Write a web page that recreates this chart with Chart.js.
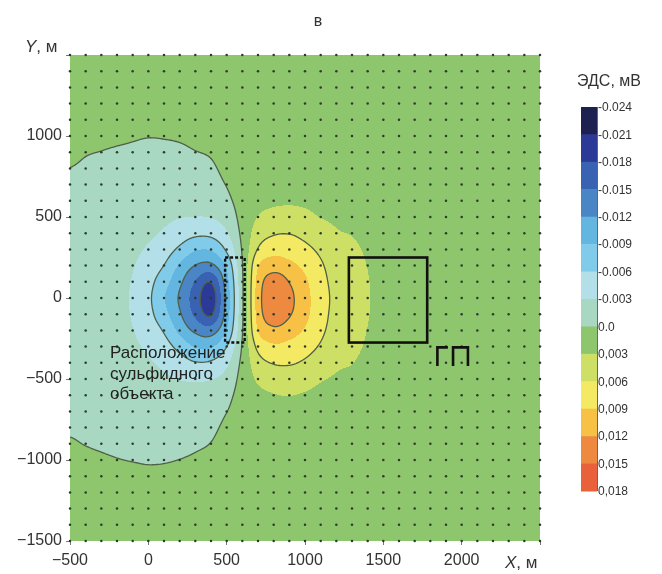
<!DOCTYPE html>
<html lang="ru">
<head>
<meta charset="utf-8">
<script src="https://cdn.jsdelivr.net/npm/chart.js@4.4.1/dist/chart.umd.min.js"></script>
<style>
  html, body { margin: 0; padding: 0; background: #fff; }
  #wrap { width: 662px; height: 574px; position: relative; }
</style>
</head>
<body>
<div id="wrap"><canvas id="chartMapa"></canvas></div>
<script>
// ==================== DATOS ====================
// nodos de la malla de observación (m)
const xCoords = [-500,-400,-300,-200,-100,0,100,200,300,400,500,600,700,800,900,1000,
                 1100,1200,1300,1400,1500,1600,1700,1800,1900,2000,2100,2200,2300,2400,2500];
const yCoords = [1500,1400,1300,1200,1100,1000,900,800,700,600,500,400,300,200,100,0,
                 -100,-200,-300,-400,-500,-600,-700,-800,-900,-1000,-1100,-1200,-1300,-1400,-1500];

// ЭДС en cada nodo, en unidades de 0.001 мВ; filas de Y=1500 a Y=-1500
const emfRows = [
  [1,1,1,1,1,1,1,1,1,1, 1,1,1,1,1,1,1,1,1,1,1,1,1,1,1, 1,1,1,1,1,1],
  [1,1,1,1,1,1,1,1,1,1, 1,1,1,1,1,1,1,1,1,1,1,1,1,1,1, 1,1,1,1,1,1],
  [1,1,1,1,1,1,1,1,1,1, 1,1,1,1,1,1,1,1,1,1,1,1,1,1,1, 1,1,1,1,1,1],
  [1,0.95,0.9,0.9,0.85,0.85,0.85,0.9,0.9,1, 1,1,1,1,1,1,1,1,1,1,1,1,1,1,1, 1,1,1,1,1,1],
  [0.9,0.8,0.75,0.7,0.6,0.55,0.6,0.65,0.75,0.9, 1,1,1,1,1,1,1,1,1,1,1,1,1,1,1, 1,1,1,1,1,1],
  [0.7,0.5,0.4,0.3,0.15,0.05,0.1,0.2,0.4,0.6, 1,1,1,1.05,1.05,1.05,1.05,1.05,1.05,1.05,1,1,1,1,1, 1,1,1,1,1,1],
  [0.4,0.1,-0.03,-0.17,-0.25,-0.35,-0.4,-0.3,-0.05,0.2, 0.9,1,1.1,1.2,1.2,1.2,1.2,1.2,1.15,1.15,1.1,1.05,1.05,1,1, 1,1,1,1,1,1],
  [-0.02,-0.25,-0.4,-0.5,-0.6,-0.75,-0.85,-0.8,-0.7,-0.35, 0.6,1.05,1.3,1.5,1.5,1.5,1.4,1.4,1.35,1.3,1.2,1.15,1.1,1.05,1, 1,1,1,1,1,1],
  [-0.35,-0.55,-0.7,-0.85,-1,-1.2,-1.35,-1.35,-1.3,-1, 0.1,1.1,1.6,1.9,2,1.9,1.8,1.7,1.65,1.55,1.35,1.25,1.15,1.1,1.05, 1,1,1,1,1,1],
  [-0.65,-0.8,-1,-1.2,-1.4,-1.65,-1.9,-2,-2,-1.8, -0.6,1.1,2.2,2.6,2.7,2.6,2.3,2.1,2,1.8,1.5,1.35,1.2,1.15,1.05, 1,1,1,1,1,1],
  [-0.85,-1.05,-1.3,-1.55,-1.8,-2.1,-2.5,-2.9,-3.05,-2.9, -1.8,1,3.1,3.8,4,3.6,2.95,2.6,2.4,2.1,1.7,1.45,1.3,1.2,1.1, 1,1,1,1,1,1],
  [-1,-1.25,-1.55,-1.85,-2.15,-2.6,-3.3,-4.4,-5.3,-5.2, -3.3,0.7,4.4,5.7,5.9,5.2,4.2,3.2,2.9,2.4,1.85,1.55,1.35,1.2,1.1, 1,1,1,1,1,1],
  [-1.1,-1.4,-1.75,-2.1,-2.5,-3.3,-4.5,-6.6,-8.7,-8.7, -5.5,0.3,6.2,8,7.6,6.7,5.4,3.9,3.4,2.7,2,1.65,1.4,1.25,1.1, 1,1,1,1,1,1],
  [-1.15,-1.5,-1.9,-2.3,-2.85,-4.2,-6.05,-9.4,-12.1,-12.7, -8.4,-0.1,8.8,10.6,9.8,8.3,6.4,4.6,3.8,2.95,2.15,1.75,1.45,1.3,1.15, 1,1,1,1,1,1],
  [-1.2,-1.58,-1.97,-2.45,-3.15,-5,-7.8,-11.3,-15.2,-17.8, -10.2,-0.4,10.1,13.6,11.9,9.5,7,5,3.95,3.1,2.25,1.8,1.5,1.3,1.15, 1,1,1,1,1,1],
  [-1.2,-1.6,-2,-2.5,-3.3,-5.4,-8.8,-12.4,-16.5,-19.8, -11,-0.5,10.5,14.6,12.8,10,7.3,5.2,4,3.15,2.3,1.8,1.5,1.3,1.15, 1,1,1,1,1,1],
  [-1.2,-1.58,-1.97,-2.45,-3.2,-5.1,-8,-11.6,-15.6,-18.3, -10.5,-0.45,10.2,13.9,12.3,9.8,7.1,5.1,3.95,3.1,2.25,1.8,1.5,1.3,1.15, 1,1,1,1,1,1],
  [-1.18,-1.52,-1.92,-2.33,-2.92,-4.35,-6.3,-9.8,-12.6,-13.5, -8.9,-0.15,9.1,11.3,10.4,8.7,6.6,4.8,3.85,2.95,2.2,1.75,1.45,1.3,1.15, 1,1,1,1,1,1],
  [-1.12,-1.43,-1.8,-2.15,-2.58,-3.45,-4.75,-7,-9.2,-9.3, -6.05,0.3,6.8,8.5,8.1,7.1,5.7,4.1,3.5,2.75,2.05,1.65,1.4,1.25,1.1, 1,1,1,1,1,1],
  [-1.05,-1.3,-1.62,-1.92,-2.25,-2.75,-3.5,-4.7,-5.8,-5.6, -3.6,0.75,4.8,6.2,6.3,5.6,4.5,3.4,3.05,2.45,1.9,1.55,1.35,1.2,1.1, 1,1,1,1,1,1],
  [-0.92,-1.12,-1.4,-1.65,-1.9,-2.2,-2.65,-3.1,-3.3,-3.1, -2,1.05,3.4,4.1,4.3,3.9,3.2,2.75,2.5,2.15,1.75,1.45,1.3,1.2,1.1, 1,1,1,1,1,1],
  [-0.75,-0.9,-1.12,-1.32,-1.52,-1.78,-2.02,-2.15,-2.15,-1.95, -0.8,1.15,2.4,2.9,3.05,2.8,2.45,2.2,2.05,1.85,1.55,1.35,1.2,1.15,1.05, 1,1,1,1,1,1],
  [-0.5,-0.65,-0.82,-0.97,-1.12,-1.35,-1.5,-1.5,-1.45,-1.15, -0.05,1.15,1.75,2.1,2.2,2.05,1.9,1.8,1.7,1.6,1.4,1.25,1.15,1.1,1.05, 1,1,1,1,1,1],
  [-0.2,-0.38,-0.52,-0.65,-0.75,-0.9,-1,-0.95,-0.85,-0.5, 0.5,1.1,1.35,1.6,1.6,1.6,1.5,1.45,1.4,1.35,1.25,1.15,1.1,1.05,1, 1,1,1,1,1,1],
  [0.15,-0.05,-0.2,-0.33,-0.4,-0.5,-0.55,-0.45,-0.25,0.05, 0.85,1,1.15,1.3,1.3,1.3,1.25,1.25,1.2,1.15,1.1,1.05,1.05,1,1, 1,1,1,1,1,1],
  [0.5,0.35,0.2,0.05,-0.05,-0.12,-0.1,0.02,0.2,0.45, 1,1,1.05,1.1,1.1,1.1,1.1,1.1,1.05,1.05,1,1,1,1,1, 1,1,1,1,1,1],
  [0.8,0.7,0.6,0.5,0.4,0.3,0.35,0.45,0.6,0.8, 1,1,1,1,1,1,1,1,1,1,1,1,1,1,1, 1,1,1,1,1,1],
  [0.95,0.9,0.85,0.8,0.75,0.7,0.7,0.75,0.85,0.95, 1,1,1,1,1,1,1,1,1,1,1,1,1,1,1, 1,1,1,1,1,1],
  [1,1,1,0.95,0.95,0.9,0.9,0.95,1,1, 1,1,1,1,1,1,1,1,1,1,1,1,1,1,1, 1,1,1,1,1,1],
  [1,1,1,1,1,1,1,1,1,1, 1,1,1,1,1,1,1,1,1,1,1,1,1,1,1, 1,1,1,1,1,1],
  [1,1,1,1,1,1,1,1,1,1, 1,1,1,1,1,1,1,1,1,1,1,1,1,1,1, 1,1,1,1,1,1]
];

// escala de colores (límites en 0.001 мВ)
const bandLimits = [-24,-21,-18,-15,-12,-9,-6,-3,0,3,6,9,12,15,18];
const bandLabels = ['-0.024','-0.021','-0.018','-0.015','-0.012','-0.009','-0.006','-0.003',
                    '0.0','0,003','0,006','0,009','0,012','0,015','0,018'];
const bandColors = ['#1d2152','#2b3a96','#3a62b2','#4a86c6','#62b6e0','#80cbea','#b3e0e8',
                    '#a9d8c2','#8dc66c','#cddf64','#f4e962','#f6c144','#ee8a40','#e8613a'];
const contourLevels = [-18,-12,-6,0,6,12];

// objetos dibujados sobre el mapa (m)
const sulfideBox = { x: [490, 615], y: [-275, 250] };
const loopBox = { x: [1280, 1780], y: [-275, 250] };
const gpMarks = [
  [[1845, -420], [1845, -305], [1912, -305]],
  [[1945, -420], [1945, -305], [2040, -305], [2040, -420]]
];
const noteLines = ['Расположение', 'сульфидного', 'объекта'];
const notePos = { x: -245, y: -342 };

const FONT = "'Liberation Sans', Arial, sans-serif";

// ==================== FUNCIONES ====================
function hexToRgb(h) {
  return [parseInt(h.substr(1,2),16), parseInt(h.substr(3,2),16), parseInt(h.substr(5,2),16)];
}

// Catmull-Rom entre nodos de la malla
function crWeights(t) {
  const t2 = t * t, t3 = t2 * t;
  return [(-t3 + 2*t2 - t) / 2, (3*t3 - 5*t2 + 2) / 2, (-3*t3 + 4*t2 + t) / 2, (t3 - t2) / 2];
}

function valueAt(X, Y) {
  const nx = xCoords.length, ny = yCoords.length;
  const dx = xCoords[1] - xCoords[0], dy = yCoords[0] - yCoords[1];
  const fx = Math.max(0, Math.min(nx - 1, (X - xCoords[0]) / dx));
  const fy = Math.max(0, Math.min(ny - 1, (yCoords[0] - Y) / dy));
  const i = Math.min(nx - 2, Math.floor(fx)), j = Math.min(ny - 2, Math.floor(fy));
  const wx = crWeights(fx - i), wy = crWeights(fy - j);
  let v = 0;
  for (let b = 0; b < 4; b++) {
    const row = emfRows[Math.max(0, Math.min(ny - 1, j - 1 + b))];
    let s = 0;
    for (let c = 0; c < 4; c++) s += wx[c] * row[Math.max(0, Math.min(nx - 1, i - 1 + c))];
    v += wy[b] * s;
  }
  return v;
}

function bandIndex(v) {
  let k = 0;
  for (let b = 0; b < bandLimits.length - 1; b++) if (v >= bandLimits[b]) k = b;
  return k;
}

// ==================== PLUGIN: MAPA DE ISOLÍNEAS ====================
const mapaPlugin = {
  id: 'mapa',
  beforeDatasetsDraw(chart) {
    const { ctx, chartArea: a, scales: { x, y } } = chart;
    const w = Math.round(a.right - a.left), h = Math.round(a.bottom - a.top);
    const vals = new Float32Array(w * h);
    const off = document.createElement('canvas');
    off.width = w; off.height = h;
    const octx = off.getContext('2d');
    const img = octx.createImageData(w, h);
    const rgb = bandColors.map(hexToRgb);
    for (let py = 0; py < h; py++) {
      const Y = y.getValueForPixel(a.top + py + 0.5);
      for (let px = 0; px < w; px++) {
        const X = x.getValueForPixel(a.left + px + 0.5);
        const v = valueAt(X, Y);
        vals[py * w + px] = v;
        const c = rgb[bandIndex(v)];
        const k = (py * w + px) * 4;
        img.data[k] = c[0]; img.data[k+1] = c[1]; img.data[k+2] = c[2]; img.data[k+3] = 255;
      }
    }
    octx.putImageData(img, 0, 0);
    ctx.save();
    ctx.drawImage(off, a.left, a.top, w, h);

    // isolíneas sobre el campo interpolado
    ctx.beginPath();
    ctx.rect(a.left, a.top, a.right - a.left, a.bottom - a.top);
    ctx.clip();
    ctx.strokeStyle = '#4f5f48';
    ctx.lineWidth = 1.3;
    ctx.lineCap = 'round';
    const s = 2;
    contourLevels.forEach(L => {
      ctx.beginPath();
      for (let py = 0; py + s < h; py += s) {
        for (let px = 0; px + s < w; px += s) {
          const cs = [[px, py], [px + s, py], [px + s, py + s], [px, py + s]];
          const pts = [];
          for (let e = 0; e < 4; e++) {
            const p = cs[e], q = cs[(e + 1) % 4];
            const va = vals[p[1] * w + p[0]], vb = vals[q[1] * w + q[0]];
            if ((va < L) !== (vb < L)) {
              const t = (L - va) / (vb - va);
              pts.push([a.left + 0.5 + p[0] + t * (q[0] - p[0]), a.top + 0.5 + p[1] + t * (q[1] - p[1])]);
            }
          }
          if (pts.length >= 2) {
            ctx.moveTo(pts[0][0], pts[0][1]); ctx.lineTo(pts[1][0], pts[1][1]);
            if (pts.length === 4) { ctx.moveTo(pts[2][0], pts[2][1]); ctx.lineTo(pts[3][0], pts[3][1]); }
          }
        }
      }
      ctx.stroke();
    });
    ctx.restore();
  },

  afterDatasetsDraw(chart) {
    const { ctx, scales: { x, y } } = chart;
    ctx.save();
    ctx.strokeStyle = '#111';
    // контур сульфидного объекта
    ctx.lineWidth = 2.4;
    ctx.setLineDash([3, 2]);
    ctx.strokeRect(x.getPixelForValue(sulfideBox.x[0]), y.getPixelForValue(sulfideBox.y[1]),
      x.getPixelForValue(sulfideBox.x[1]) - x.getPixelForValue(sulfideBox.x[0]),
      y.getPixelForValue(sulfideBox.y[0]) - y.getPixelForValue(sulfideBox.y[1]));
    ctx.setLineDash([]);
    ctx.lineWidth = 2.6;
    ctx.strokeRect(x.getPixelForValue(loopBox.x[0]), y.getPixelForValue(loopBox.y[1]),
      x.getPixelForValue(loopBox.x[1]) - x.getPixelForValue(loopBox.x[0]),
      y.getPixelForValue(loopBox.y[0]) - y.getPixelForValue(loopBox.y[1]));
    gpMarks.forEach(m => {
      ctx.beginPath();
      m.forEach((p, k) => {
        const px = x.getPixelForValue(p[0]), py = y.getPixelForValue(p[1]);
        if (k === 0) ctx.moveTo(px, py); else ctx.lineTo(px, py);
      });
      ctx.stroke();
    });
    // подпись
    ctx.fillStyle = '#222';
    ctx.font = '17px ' + FONT;
    ctx.textBaseline = 'middle';
    ctx.textAlign = 'left';
    const tx = x.getPixelForValue(notePos.x), ty = y.getPixelForValue(notePos.y);
    noteLines.forEach((t, k) => ctx.fillText(t, tx, ty + k * 20.5));
    ctx.restore();
  },

  afterDraw(chart) {
    const { ctx, chartArea: a } = chart;
    ctx.save();
    ctx.fillStyle = '#333';
    ctx.textBaseline = 'middle';
    // título
    ctx.font = '16px ' + FONT;
    ctx.textAlign = 'center';
    ctx.fillText('в', 318, 22);
    // títulos de ejes
    ctx.textAlign = 'left';
    ctx.font = 'italic 17px ' + FONT;
    ctx.fillText('Y', 25, 47);
    const wY = ctx.measureText('Y').width;
    ctx.font = '17px ' + FONT;
    ctx.fillText(', м', 25 + wY, 47);
    ctx.font = 'italic 17px ' + FONT;
    ctx.fillText('X', 505, a.bottom + 22);
    const wX = ctx.measureText('X').width;
    ctx.font = '17px ' + FONT;
    ctx.fillText(', м', 505 + wX, a.bottom + 22);

    // escala de colores
    const bx = 581, bw = 16, top = 107, bot = 491;
    const step = (bot - top) / bandColors.length;
    bandColors.forEach((c, k) => {
      ctx.fillStyle = c;
      ctx.fillRect(bx, top + k * step, bw, step + 0.5);
    });
    ctx.strokeStyle = '#666';
    ctx.lineWidth = 1;
    ctx.beginPath(); ctx.moveTo(bx + bw + 0.5, top); ctx.lineTo(bx + bw + 0.5, bot); ctx.stroke();
    ctx.fillStyle = '#333';
    ctx.font = '12px ' + FONT;
    ctx.textAlign = 'left';
    bandLabels.forEach((t, k) => ctx.fillText(t, bx + bw + 1, top + k * step + 1));
    ctx.font = '16px ' + FONT;
    ctx.textAlign = 'center';
    ctx.fillText('ЭДС, мВ', 609, 82);
    ctx.restore();
  }
};

// ==================== GRÁFICO ====================
document.addEventListener('DOMContentLoaded', function() {
  const puntos = [];
  yCoords.forEach(yy => xCoords.forEach(xx => puntos.push({ x: xx, y: yy })));

  const fmt = v => (v < 0 ? '\u2212' + Math.abs(v) : String(v));

  new Chart(document.getElementById('chartMapa').getContext('2d'), {
    type: 'scatter',
    data: {
      datasets: [{
        label: 'Пункты наблюдения',
        data: puntos,
        pointRadius: 1.25,
        pointBackgroundColor: '#2f3a2c',
        pointBorderWidth: 0,
        clip: 4
      }]
    },
    options: {
      responsive: true,
      maintainAspectRatio: false,
      animation: false,
      layout: { padding: { left: 0, right: 122, top: 55, bottom: 0 } },
      plugins: { legend: { display: false }, tooltip: { enabled: false } },
      scales: {
        x: {
          type: 'linear', min: -500, max: 2500,
          ticks: { stepSize: 500, color: '#333', padding: 6,
                   font: { family: FONT, size: 16 },
                   callback: v => (v >= 2500 ? '' : fmt(v)) },
          grid: { drawOnChartArea: false, tickLength: 4, color: '#777' },
          border: { display: false },
          afterFit: s => { s.height = 33; }
        },
        y: {
          type: 'linear', min: -1500, max: 1500,
          ticks: { stepSize: 500, color: '#333', padding: 4,
                   font: { family: FONT, size: 16 },
                   callback: v => (v >= 1500 ? '' : fmt(v)) },
          grid: { drawOnChartArea: false, tickLength: 4, color: '#777' },
          border: { display: false },
          afterFit: s => { s.width = 70; }
        }
      }
    },
    plugins: [mapaPlugin]
  });
});
</script>
</body>
</html>
